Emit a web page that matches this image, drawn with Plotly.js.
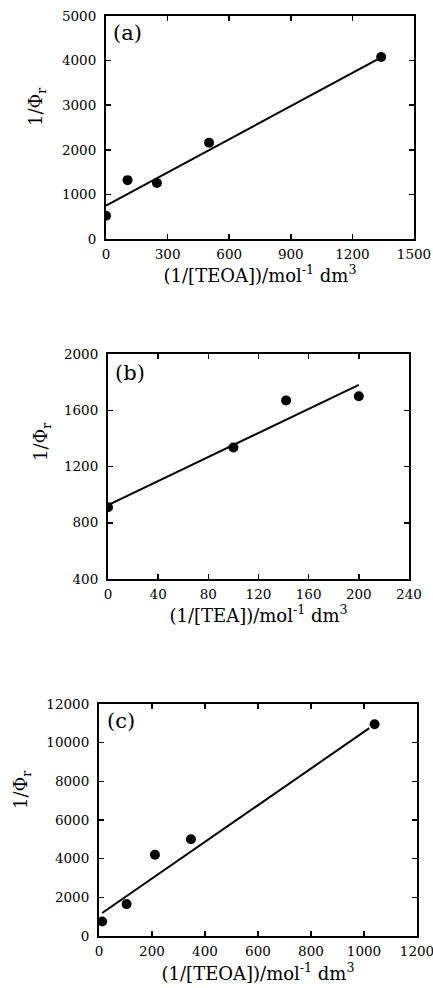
<!DOCTYPE html>
<html>
<head>
<meta charset="utf-8">
<script src="https://cdn.plot.ly/plotly-3.0.1.min.js"></script>
<style>html,body{margin:0;padding:0;background:#fff;}#chart{width:433px;height:988px;}</style>
</head>
<body>
<div id="chart"></div>
<script>
// Panel (a): 1/Phi_r vs 1/[TEOA]
const aX = [0, 105, 248, 502, 1340];
const aY = [520, 1320, 1255, 2160, 4080];
const aLineX = [0, 1320];
const aLineY = [750, 4020];

// Panel (b): 1/Phi_r vs 1/[TEA]
const bX = [0, 100, 142, 200];
const bY = [910, 1335, 1670, 1700];
const bLineX = [0, 200];
const bLineY = [926, 1780];

// Panel (c): 1/Phi_r vs 1/[TEOA]
const cX = [12, 104, 211, 347, 1040];
const cY = [750, 1650, 4200, 5000, 10950];
const cLineX = [12, 1020];
const cLineY = [1190, 10750];

const panelLabels = ['(a)', '(b)', '(c)'];
const xTitles = ['(1/[TEOA])/mol<sup>-1</sup> dm<sup>3</sup>', '(1/[TEA])/mol<sup>-1</sup> dm<sup>3</sup>', '(1/[TEOA])/mol<sup>-1</sup> dm<sup>3</sup>'];
const yTitle = '1/Φ<sub>r</sub>';

const W = 433, H = 988;
const serif = 'DejaVu Serif, serif';

function scatter(x, y, ax, ay) {
  return {x: x, y: y, xaxis: ax, yaxis: ay, type: 'scatter', mode: 'markers',
    marker: {color: '#000', size: 10}, showlegend: false, hoverinfo: 'skip'};
}
function fit(x, y, ax, ay) {
  return {x: x, y: y, xaxis: ax, yaxis: ay, type: 'scatter', mode: 'lines',
    line: {color: '#000', width: 2}, showlegend: false, hoverinfo: 'skip'};
}

const data = [
  fit(aLineX, aLineY, 'x', 'y'), scatter(aX, aY, 'x', 'y'),
  fit(bLineX, bLineY, 'x2', 'y2'), scatter(bX, bY, 'x2', 'y2'),
  fit(cLineX, cLineY, 'x3', 'y3'), scatter(cX, cY, 'x3', 'y3')
];

const common = {
  showgrid: false, zeroline: false, showline: true, linecolor: '#000', linewidth: 2,
  mirror: 'ticks', ticks: 'inside', ticklen: 5, tickwidth: 1.5, tickcolor: '#000',
  tickformat: 'd', ticklabeloverflow: 'allow',
  tickfont: {family: serif, size: 13.5, color: '#000'}
};

function xax(l, r, range, dtick, title, anchor, standoff) {
  return Object.assign({}, common, {domain: [l / W, r / W], range: range, dtick: dtick, tick0: 0, anchor: anchor,
    ticklabelstandoff: 2,
    title: {text: title, font: {family: serif, size: 18, color: '#000'}, standoff: standoff}});
}
function yax(t, b, range, dtick, anchor) {
  return Object.assign({}, common, {domain: [1 - b / H, 1 - t / H], range: range, dtick: dtick, tick0: 0, anchor: anchor,
    ticklabelstandoff: 5});
}
function plabel(text, ax, ay, dx, dy, w, h) {
  return {text: text, xref: ax + ' domain', yref: ay + ' domain', x: dx / w, y: 1 - dy / h,
    xanchor: 'left', yanchor: 'top', showarrow: false, font: {family: serif, size: 21, color: '#000'}};
}
function ytitle(xc, yc) {
  return {text: yTitle, xref: 'paper', yref: 'paper', x: xc / W, y: 1 - yc / H,
    xanchor: 'center', yanchor: 'middle', textangle: -90, showarrow: false,
    font: {family: serif, size: 18, color: '#000'}};
}

const layout = {
  width: W, height: H, margin: {l: 0, r: 0, t: 0, b: 0},
  paper_bgcolor: '#fff', plot_bgcolor: '#fff',
  xaxis: xax(106, 414, [0, 1500], 300, xTitles[0], 'y', 3),
  yaxis: yax(16, 239, [0, 5000], 1000, 'x'),
  xaxis2: xax(108, 409, [0, 240], 40, xTitles[1], 'y2', 3),
  yaxis2: yax(354, 579, [400, 2000], 400, 'x2'),
  xaxis3: xax(99, 417, [0, 1200], 200, xTitles[2], 'y3', 9),
  yaxis3: yax(704, 936, [0, 12000], 2000, 'x3'),
  annotations: [
    plabel(panelLabels[0], 'x', 'y', 5, 3, 308, 223),
    plabel(panelLabels[1], 'x2', 'y2', 5, 5, 301, 225),
    plabel(panelLabels[2], 'x3', 'y3', 6, 3, 318, 232),
    ytitle(37, 107),
    ytitle(42, 442),
    ytitle(22, 790)
  ]
};

Plotly.newPlot('chart', data, layout, {staticPlot: true, displayModeBar: false});
</script>
</body>
</html>
